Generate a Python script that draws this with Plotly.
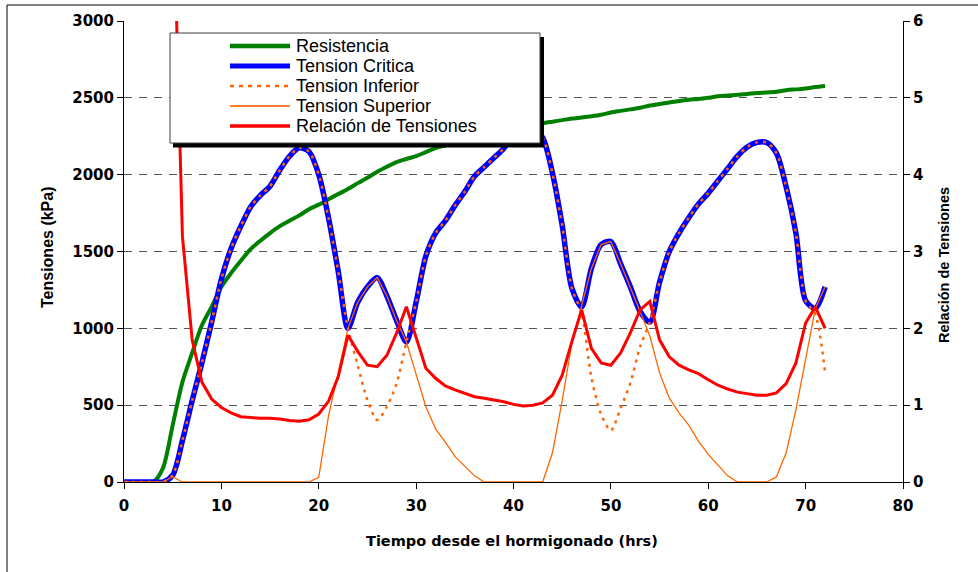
import plotly.graph_objects as go

# ---------------- data ----------------
hours = list(range(0, 73))

resistencia = [0, 0, 0, 0, 90, 370, 650, 840, 1020, 1140,
               1270, 1360, 1440, 1515, 1570, 1620, 1665, 1700, 1735, 1775,
               1805, 1840, 1874, 1906, 1945, 1980, 2019, 2052, 2082, 2102,
               2121, 2147, 2173, 2190, 2205, 2220, 2235, 2250, 2262, 2275,
               2290, 2305, 2320, 2335, 2345, 2355, 2365, 2372, 2380, 2390,
               2405, 2415, 2425, 2435, 2450, 2460, 2470, 2480, 2488, 2492,
               2500, 2510, 2515, 2520, 2525, 2532, 2535, 2540, 2550, 2555,
               2560, 2570, 2577]

critica = [0, 0, 0, 0, 0, 45, 270, 530, 775, 1040,
           1320, 1520, 1665, 1790, 1865, 1925, 2030, 2120, 2175, 2150,
           2000, 1720, 1370, 1000, 1170, 1270, 1330, 1210, 1050, 911,
           1170, 1470, 1620, 1700, 1800, 1890, 1990, 2050, 2110, 2170,
           2260, 2300, 2300, 2240, 2010, 1670, 1260, 1140, 1390, 1545,
           1565, 1420, 1270, 1110, 1040, 1300, 1500, 1620, 1720, 1810,
           1880, 1960, 2040, 2120, 2180, 2210, 2210, 2140, 1920, 1620,
           1180, 1130, 1270]

inferior = [0, 0, 0, 0, 0, 45, 270, 530, 775, 1040,
            1320, 1520, 1665, 1790, 1865, 1925, 2030, 2120, 2175, 2150,
            2000, 1720, 1370, 1000, 760, 533, 403, 490, 643, 911,
            1170, 1470, 1620, 1700, 1800, 1890, 1990, 2050, 2110, 2170,
            2260, 2300, 2300, 2240, 2010, 1670, 1260, 1100, 680, 440,
            335, 480, 645, 880, 1040, 1300, 1500, 1620, 1720, 1810,
            1880, 1960, 2040, 2120, 2180, 2210, 2210, 2140, 1920, 1620,
            1180, 1090, 710]

superior = [0, 0, 0, 0, 0, 35, 0, 0, 0, 0,
            0, 0, 0, 0, 0, 0, 0, 0, 0, 0,
            30, 430, 710, 1000, 1170, 1270, 1330, 1210, 1050, 911,
            700, 490, 345, 260, 165, 100, 40, 0, 0, 0,
            0, 0, 0, 0, 190, 530, 905, 1140, 1390, 1545,
            1565, 1420, 1270, 1110, 950, 710, 546, 450, 370, 265,
            180, 110, 40, 0, 0, 0, 0, 33, 190, 470,
            790, 1130, 1270]

relacion_hours = list(range(5, 73))
relacion = [7.9, 3.2, 1.85, 1.3, 1.08, 0.97, 0.9, 0.85, 0.84, 0.83,
            0.83, 0.82, 0.80, 0.79, 0.81, 0.885, 1.05, 1.37, 1.91, 1.70,
            1.52, 1.50, 1.65, 1.94, 2.28, 1.89, 1.48, 1.35, 1.25, 1.20,
            1.15, 1.11, 1.09, 1.07, 1.045, 1.01, 0.99, 1.00, 1.03, 1.13,
            1.39, 1.83, 2.24, 1.74, 1.55, 1.52, 1.68, 1.94, 2.24, 2.35,
            1.85, 1.63, 1.52, 1.46, 1.41, 1.33, 1.26, 1.21, 1.17, 1.15,
            1.13, 1.13, 1.16, 1.28, 1.55, 2.07, 2.28, 2.00]

series_names = ["Resistencia", "Tension Critica", "Tension Inferior",
                "Tension Superior", "Relación de Tensiones"]

# ---------------- styles ----------------
GREEN = "#008000"
BLUE = "#0000FF"
ORANGE = "#FF6600"
ORANGE_LIGHT = "#FF7F2A"
RED = "#FF0000"
FONT = "Liberation Sans"
TICKFONT = "DejaVu Sans"

W, H = 978, 572
PL, PR, PT, PB = 124, 903, 21, 482


def px_x(x):
    return (x - PL) / (PR - PL)


def px_y(y):
    return (PB - y) / (PB - PT)


fig = go.Figure()
fig.add_trace(go.Scatter(x=hours, y=resistencia, mode="lines", name=series_names[0],
                         line=dict(color=GREEN, width=4, shape="spline", smoothing=0.8),
                         showlegend=False))
fig.add_trace(go.Scatter(x=hours, y=critica, mode="lines", name=series_names[1],
                         line=dict(color=BLUE, width=5.5, shape="spline", smoothing=0.8),
                         showlegend=False))
fig.add_trace(go.Scatter(x=hours, y=inferior, mode="lines", name=series_names[2],
                         line=dict(color=ORANGE, width=2.5, dash="3px,5px",
                                   shape="spline", smoothing=0.8),
                         showlegend=False))
fig.add_trace(go.Scatter(x=hours, y=superior, mode="lines", name=series_names[3],
                         line=dict(color=ORANGE, width=1.3), showlegend=False))
fig.add_trace(go.Scatter(x=relacion_hours, y=relacion, mode="lines", name=series_names[4],
                         line=dict(color=RED, width=3), yaxis="y2", showlegend=False))

tickfont = dict(family=TICKFONT, size=15, color="black", weight="bold")

fig.update_layout(
    width=W, height=H,
    margin=dict(l=PL, r=W - PR, t=PT, b=H - PB),
    paper_bgcolor="white", plot_bgcolor="white",
    showlegend=False,
    xaxis=dict(range=[0, 80], dtick=10, tick0=0, ticks="outside", ticklen=6,
               tickcolor="black", showline=True, linecolor="black", linewidth=1,
               showgrid=False, zeroline=False, tickfont=tickfont,
               ticklabelstandoff=4),
    yaxis=dict(range=[0, 3000], dtick=500, tick0=0, ticks="outside", ticklen=6,
               tickcolor="black", showline=True, linecolor="black", linewidth=1,
               showgrid=True, gridcolor="#555555", gridwidth=1, griddash="8px,7px",
               zeroline=False, tickfont=tickfont),
    yaxis2=dict(range=[0, 6], dtick=1, tick0=0, overlaying="y", side="right",
                anchor="x", ticks="outside", ticklen=6, tickcolor="black",
                showline=True, linecolor="black", linewidth=1, showgrid=False,
                zeroline=False, tickfont=tickfont),
)

shapes = []
# outer chart frame
shapes.append(dict(type="rect", xref="paper", yref="paper",
                   x0=px_x(7), x1=px_x(W + 20), y0=px_y(H + 20), y1=px_y(5),
                   line=dict(color="black", width=1), fillcolor="rgba(0,0,0,0)",
                   layer="below"))
# legend shadow and box
shapes.append(dict(type="rect", xref="paper", yref="paper",
                   x0=px_x(173), x1=px_x(544), y0=px_y(147.5), y1=px_y(37),
                   line=dict(width=0), fillcolor="black", layer="above"))
shapes.append(dict(type="rect", xref="paper", yref="paper",
                   x0=px_x(170), x1=px_x(540), y0=px_y(143), y1=px_y(33),
                   line=dict(color="#404040", width=1), fillcolor="white", layer="above"))

legend_styles = [
    dict(color=GREEN, width=4.5),
    dict(color=BLUE, width=5),
    dict(color=ORANGE, width=2.5, dash="4px,5px"),
    dict(color=ORANGE_LIGHT, width=2),
    dict(color=RED, width=3.5),
]
rows = [46, 66, 86, 106, 126]
annotations = []
for name, style, ry in zip(series_names, legend_styles, rows):
    shapes.append(dict(type="line", xref="paper", yref="paper",
                       x0=px_x(230), x1=px_x(290), y0=px_y(ry), y1=px_y(ry),
                       line=style, layer="above"))
    annotations.append(dict(text=name, xref="paper", yref="paper",
                            x=px_x(294), y=px_y(ry), xanchor="left", yanchor="middle",
                            showarrow=False,
                            font=dict(family=FONT, size=18, color="black")))

# axis titles
annotations.append(dict(text="Tiempo desde el hormigonado (hrs)", xref="paper", yref="paper",
                        x=px_x(512), y=px_y(541), xanchor="center", yanchor="middle",
                        showarrow=False,
                        font=dict(family=TICKFONT, size=14.5, color="black", weight="bold")))
annotations.append(dict(text="Tensiones (kPa)", xref="paper", yref="paper",
                        x=px_x(48), y=px_y(247), xanchor="center", yanchor="middle",
                        textangle=-90, showarrow=False,
                        font=dict(family=FONT, size=16, color="black", weight="bold")))
annotations.append(dict(text="Relación de Tensiones", xref="paper", yref="paper",
                        x=px_x(944), y=px_y(265), xanchor="center", yanchor="middle",
                        textangle=-90, showarrow=False,
                        font=dict(family=FONT, size=14.5, color="black", weight="bold")))

fig.update_layout(shapes=shapes, annotations=annotations)

fig.write_html("out.html")
